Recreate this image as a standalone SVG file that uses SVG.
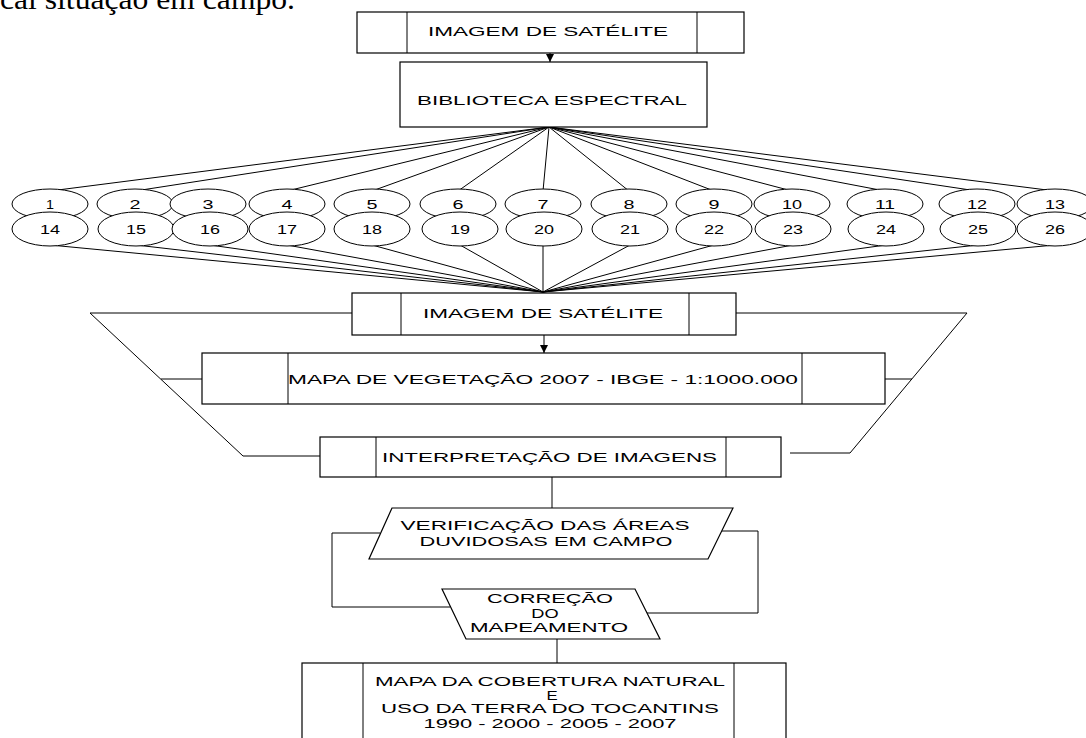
<svg xmlns="http://www.w3.org/2000/svg" width="1086" height="738" viewBox="0 0 1086 738">
<style>
.b{fill:#fff;stroke:#000;stroke-width:1.2}
.l{fill:none;stroke:#000;stroke-width:1}
.t{font-family:"Liberation Sans",Arial,sans-serif;font-size:13px;fill:#000;text-anchor:middle}
.n{font-family:"Liberation Sans",Arial,sans-serif;font-size:12px;fill:#000;text-anchor:middle}
.e{fill:#fff;stroke:#000;stroke-width:1}
</style>
<defs>
<marker id="ah" markerWidth="9" markerHeight="8" refX="8" refY="4" orient="auto" markerUnits="userSpaceOnUse">
<path d="M0,0 L8,4 L0,8 z" fill="#000"/>
</marker>
</defs>
<rect width="1086" height="738" fill="#fff"/>
<text x="0" y="9" font-family="Liberation Serif,Times New Roman,serif" font-size="30" textLength="295" lengthAdjust="spacingAndGlyphs">cal situação em campo.</text>
<g id="connectors">
<line class="l" x1="550" y1="53" x2="550" y2="62" marker-end="url(#ah)"/>
<g id="fan-top">
<line class="l" x1="549" y1="127" x2="50" y2="191"/>
<line class="l" x1="549" y1="127" x2="135" y2="191"/>
<line class="l" x1="549" y1="127" x2="287" y2="191"/>
<line class="l" x1="549" y1="127" x2="372" y2="191"/>
<line class="l" x1="549" y1="127" x2="458" y2="191"/>
<line class="l" x1="549" y1="127" x2="543" y2="191"/>
<line class="l" x1="549" y1="127" x2="629" y2="191"/>
<line class="l" x1="549" y1="127" x2="714" y2="191"/>
<line class="l" x1="549" y1="127" x2="792" y2="191"/>
<line class="l" x1="549" y1="127" x2="885" y2="191"/>
<line class="l" x1="549" y1="127" x2="977" y2="191"/>
<line class="l" x1="549" y1="127" x2="1055" y2="191"/>
</g>
<g id="fan-bottom">
<line class="l" x1="50" y1="245" x2="543" y2="292"/>
<line class="l" x1="136" y1="245" x2="543" y2="292"/>
<line class="l" x1="210" y1="245" x2="543" y2="292"/>
<line class="l" x1="287" y1="245" x2="543" y2="292"/>
<line class="l" x1="372" y1="245" x2="543" y2="292"/>
<line class="l" x1="460" y1="245" x2="543" y2="292"/>
<line class="l" x1="543" y1="245" x2="543" y2="292"/>
<line class="l" x1="630" y1="245" x2="543" y2="292"/>
<line class="l" x1="714" y1="245" x2="543" y2="292"/>
<line class="l" x1="793" y1="245" x2="543" y2="292"/>
<line class="l" x1="886" y1="245" x2="543" y2="292"/>
<line class="l" x1="978" y1="245" x2="543" y2="292"/>
<line class="l" x1="1055" y1="245" x2="543" y2="292"/>
</g>
<line class="l" x1="544" y1="335" x2="544" y2="353" marker-end="url(#ah)"/>
<polyline class="l" points="352,313 90,313 243,456 320,456"/>
<line class="l" x1="161" y1="379" x2="202" y2="379"/>
<polyline class="l" points="736,313 967,313 850,453 790,453"/>
<line class="l" x1="885" y1="379" x2="912" y2="379"/>
<line class="l" x1="552" y1="477" x2="552" y2="508"/>
<polyline class="l" points="380,533 332,533 332,607 450,607"/>
<polyline class="l" points="722,531 758,531 758,613 647,613"/>
<line class="l" x1="557" y1="639" x2="557" y2="663"/>
</g>
<g id="ellipses">
<g id="e1"><ellipse class="e" cx="50" cy="204" rx="38" ry="15"/><text class="n" x="50" y="209" textLength="8" lengthAdjust="spacingAndGlyphs">1</text></g>
<g id="e2"><ellipse class="e" cx="135" cy="204" rx="38" ry="15"/><text class="n" x="135" y="209" textLength="11" lengthAdjust="spacingAndGlyphs">2</text></g>
<g id="e3"><ellipse class="e" cx="208" cy="204" rx="38" ry="15"/><text class="n" x="208" y="209" textLength="11" lengthAdjust="spacingAndGlyphs">3</text></g>
<g id="e4"><ellipse class="e" cx="287" cy="204" rx="38" ry="15"/><text class="n" x="287" y="209" textLength="11" lengthAdjust="spacingAndGlyphs">4</text></g>
<g id="e5"><ellipse class="e" cx="372" cy="204" rx="38" ry="15"/><text class="n" x="372" y="209" textLength="11" lengthAdjust="spacingAndGlyphs">5</text></g>
<g id="e6"><ellipse class="e" cx="458" cy="204" rx="38" ry="15"/><text class="n" x="458" y="209" textLength="11" lengthAdjust="spacingAndGlyphs">6</text></g>
<g id="e7"><ellipse class="e" cx="543" cy="204" rx="38" ry="15"/><text class="n" x="543" y="209" textLength="11" lengthAdjust="spacingAndGlyphs">7</text></g>
<g id="e8"><ellipse class="e" cx="629" cy="204" rx="38" ry="15"/><text class="n" x="629" y="209" textLength="11" lengthAdjust="spacingAndGlyphs">8</text></g>
<g id="e9"><ellipse class="e" cx="714" cy="204" rx="38" ry="15"/><text class="n" x="714" y="209" textLength="11" lengthAdjust="spacingAndGlyphs">9</text></g>
<g id="e10"><ellipse class="e" cx="792" cy="204" rx="38" ry="15"/><text class="n" x="792" y="209" textLength="20" lengthAdjust="spacingAndGlyphs">10</text></g>
<g id="e11"><ellipse class="e" cx="885" cy="204" rx="38" ry="15"/><text class="n" x="885" y="209" textLength="20" lengthAdjust="spacingAndGlyphs">11</text></g>
<g id="e12"><ellipse class="e" cx="977" cy="204" rx="38" ry="15"/><text class="n" x="977" y="209" textLength="20" lengthAdjust="spacingAndGlyphs">12</text></g>
<g id="e13"><ellipse class="e" cx="1055" cy="204" rx="38" ry="15"/><text class="n" x="1055" y="209" textLength="20" lengthAdjust="spacingAndGlyphs">13</text></g>
<g id="e14"><ellipse class="e" cx="50" cy="229" rx="38" ry="17"/><text class="n" x="50" y="234" textLength="20" lengthAdjust="spacingAndGlyphs">14</text></g>
<g id="e15"><ellipse class="e" cx="136" cy="229" rx="38" ry="17"/><text class="n" x="136" y="234" textLength="20" lengthAdjust="spacingAndGlyphs">15</text></g>
<g id="e16"><ellipse class="e" cx="210" cy="229" rx="38" ry="17"/><text class="n" x="210" y="234" textLength="20" lengthAdjust="spacingAndGlyphs">16</text></g>
<g id="e17"><ellipse class="e" cx="287" cy="229" rx="38" ry="17"/><text class="n" x="287" y="234" textLength="20" lengthAdjust="spacingAndGlyphs">17</text></g>
<g id="e18"><ellipse class="e" cx="372" cy="229" rx="38" ry="17"/><text class="n" x="372" y="234" textLength="20" lengthAdjust="spacingAndGlyphs">18</text></g>
<g id="e19"><ellipse class="e" cx="460" cy="229" rx="38" ry="17"/><text class="n" x="460" y="234" textLength="20" lengthAdjust="spacingAndGlyphs">19</text></g>
<g id="e20"><ellipse class="e" cx="544" cy="229" rx="38" ry="17"/><text class="n" x="544" y="234" textLength="20" lengthAdjust="spacingAndGlyphs">20</text></g>
<g id="e21"><ellipse class="e" cx="630" cy="229" rx="38" ry="17"/><text class="n" x="630" y="234" textLength="20" lengthAdjust="spacingAndGlyphs">21</text></g>
<g id="e22"><ellipse class="e" cx="714" cy="229" rx="38" ry="17"/><text class="n" x="714" y="234" textLength="20" lengthAdjust="spacingAndGlyphs">22</text></g>
<g id="e23"><ellipse class="e" cx="793" cy="229" rx="38" ry="17"/><text class="n" x="793" y="234" textLength="20" lengthAdjust="spacingAndGlyphs">23</text></g>
<g id="e24"><ellipse class="e" cx="886" cy="229" rx="38" ry="17"/><text class="n" x="886" y="234" textLength="20" lengthAdjust="spacingAndGlyphs">24</text></g>
<g id="e25"><ellipse class="e" cx="978" cy="229" rx="38" ry="17"/><text class="n" x="978" y="234" textLength="20" lengthAdjust="spacingAndGlyphs">25</text></g>
<g id="e26"><ellipse class="e" cx="1055" cy="229" rx="38" ry="17"/><text class="n" x="1055" y="234" textLength="20" lengthAdjust="spacingAndGlyphs">26</text></g>
</g>
<g id="box1">
<rect class="b" x="357" y="12" width="387" height="41"/>
<line class="l" x1="407" y1="12" x2="407" y2="53"/><line class="l" x1="697" y1="12" x2="697" y2="53"/>
<text class="t" x="548" y="36" textLength="240" lengthAdjust="spacingAndGlyphs">IMAGEM DE SATÉLITE</text>
</g>
<g id="box2">
<rect class="b" x="400" y="62" width="307" height="65"/>
<text class="t" x="552" y="105" textLength="270" lengthAdjust="spacingAndGlyphs">BIBLIOTECA ESPECTRAL</text>
</g>
<g id="box3">
<rect class="b" x="352" y="293" width="384" height="42"/>
<line class="l" x1="401" y1="293" x2="401" y2="335"/><line class="l" x1="689" y1="293" x2="689" y2="335"/>
<text class="t" x="543" y="318" textLength="240" lengthAdjust="spacingAndGlyphs">IMAGEM DE SATÉLITE</text>
</g>
<g id="box4">
<rect class="b" x="202" y="353" width="683" height="51"/>
<line class="l" x1="288" y1="353" x2="288" y2="404"/><line class="l" x1="802" y1="353" x2="802" y2="404"/>
<text class="t" x="543" y="384" textLength="510" lengthAdjust="spacingAndGlyphs">MAPA DE VEGETAÇÃO 2007 - IBGE - 1:1000.000</text>
</g>
<g id="box5">
<rect class="b" x="320" y="437" width="461" height="40"/>
<line class="l" x1="376" y1="437" x2="376" y2="477"/><line class="l" x1="726" y1="437" x2="726" y2="477"/>
<text class="t" x="549.5" y="462" textLength="335" lengthAdjust="spacingAndGlyphs">INTERPRETAÇÃO DE IMAGENS</text>
</g>
<g id="para1">
<polygon class="b" points="392,508 733,508 708,559 369,559"/>
<text class="t" x="545" y="530" textLength="289" lengthAdjust="spacingAndGlyphs">VERIFICAÇÃO DAS ÁREAS</text>
<text class="t" x="546" y="546" textLength="253" lengthAdjust="spacingAndGlyphs">DUVIDOSAS EM CAMPO</text>
</g>
<g id="para2">
<polygon class="b" points="442,589 635,589 660,639 466,639"/>
<text class="t" x="550" y="603" textLength="126" lengthAdjust="spacingAndGlyphs">CORREÇÃO</text>
<text class="t" transform="translate(545,618) scale(1.4,1)" x="0" y="0">DO</text>
<text class="t" x="549" y="632" textLength="158" lengthAdjust="spacingAndGlyphs">MAPEAMENTO</text>
</g>
<g id="box6">
<rect class="b" x="302" y="663" width="484" height="90"/>
<line class="l" x1="363" y1="663" x2="363" y2="738"/><line class="l" x1="734" y1="663" x2="734" y2="738"/>
<text class="n" x="550" y="686" textLength="350" lengthAdjust="spacingAndGlyphs">MAPA DA COBERTURA NATURAL</text>
<text class="n" transform="translate(552,700) scale(1.4,1)" x="0" y="0">E</text>
<text class="n" x="550" y="713" textLength="338" lengthAdjust="spacingAndGlyphs">USO DA TERRA DO TOCANTINS</text>
<text class="n" x="550" y="728" textLength="253" lengthAdjust="spacingAndGlyphs">1990 - 2000 - 2005 - 2007</text>
</g>
</svg>
